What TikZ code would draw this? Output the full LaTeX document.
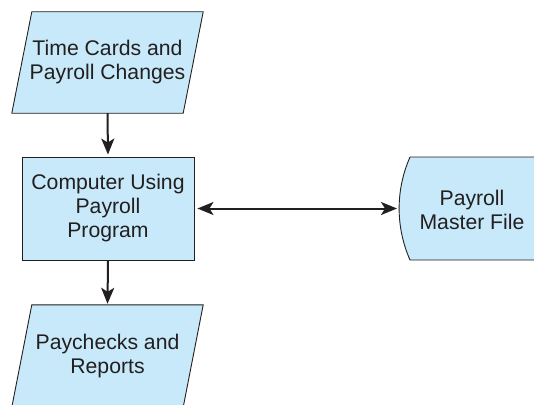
\documentclass[tikz,border=0pt]{standalone}
\usepackage{fontspec}
\setmainfont{Liberation Sans}
\usetikzlibrary{arrows.meta,calc}
\pgfdeclarelayer{background}
\pgfsetlayers{background,main}
\definecolor{fillblue}{RGB}{199,233,249}
\definecolor{ink}{RGB}{35,31,32}
\begin{document}
\begin{tikzpicture}[x=1pt,y=-1pt,
  txt/.style={font=\fontsize{21.2}{24}\selectfont, align=center, text=ink, inner sep=0pt},
  shapebox/.style={fill=fillblue, draw=ink, line width=0.9pt},
  flow/.style={draw=ink, line width=2pt, -{Stealth[length=16pt,width=13pt,inset=4pt]}},
  bflow/.style={draw=ink, line width=2pt, {Stealth[length=16pt,width=13pt,inset=4pt]}-{Stealth[length=16pt,width=13pt,inset=4pt]}}]
\useasboundingbox (0,0) rectangle (534,404);
% nodes
\node[txt, minimum width=171pt, minimum height=101pt] (tc) at (107.5,62.5) {Time Cards and\\Payroll Changes};
\node[txt, shapebox, minimum width=172pt, minimum height=103pt] (cp) at (108,208.5) {Computer Using\\Payroll\\Program};
\node[txt, minimum width=171pt, minimum height=102pt] (pr) at (107.5,356) {Paychecks and\\Reports};
\node[txt] (mf) at (472,210) {Payroll\\Master File};
\coordinate (mfl) at (399,208.5);
% shapes
\begin{pgfonlayer}{background}
  \filldraw[shapebox] ($(tc.north west)+(10,0)$) -- ($(tc.north east)+(10,0)$) -- ($(tc.south east)+(-10,0)$) -- ($(tc.south west)+(-10,0)$) -- cycle;
  \begin{scope}
    \clip (0,0) rectangle (534,404);
    \filldraw[shapebox] ($(pr.north west)+(10,0)$) -- ($(pr.north east)+(10,0)$) -- ($(pr.south east)+(-10,0)$) -- ($(pr.south west)+(-10,0)$) -- cycle;
    \filldraw[shapebox] (545,157) -- (410,157) .. controls (395.5,190) and (395.5,227) .. (410,260) -- (545,260);
  \end{scope}
\end{pgfonlayer}
% connectors
\draw[flow, shorten >=2pt] (tc.south) -- (cp.north);
\draw[flow, shorten >=1pt] (cp.south) -- (pr.north);
\draw[bflow, shorten <=3pt, shorten >=2pt] (cp.east) -- (mfl);
\end{tikzpicture}
\end{document}
